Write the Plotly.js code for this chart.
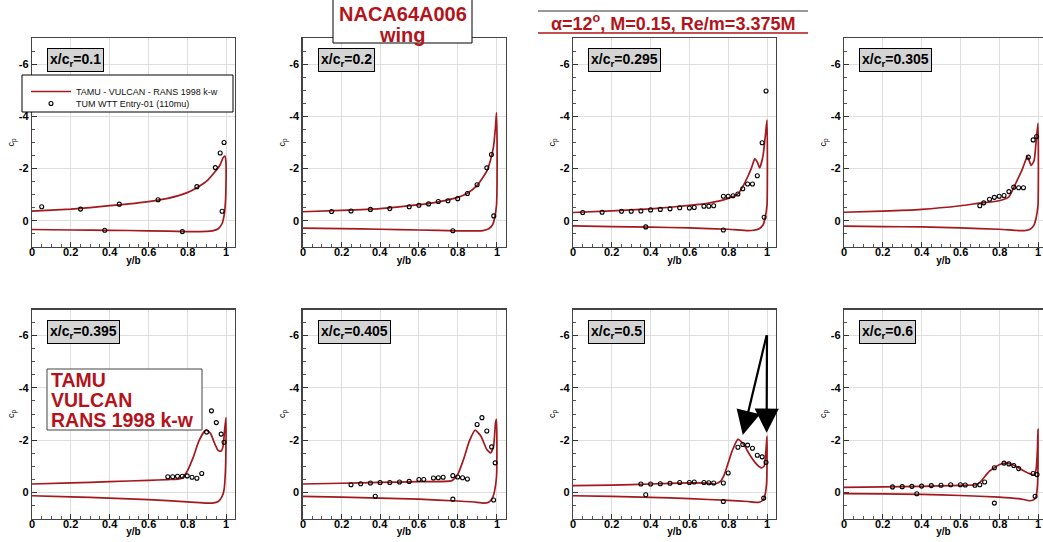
<!DOCTYPE html>
<html>
<head>
<meta charset="utf-8">
<script src="https://cdn.plot.ly/plotly-3.0.1.min.js"></script>
<style>html,body{margin:0;padding:0;background:#fff;}#chart{width:1043px;height:542px;}</style>
</head>
<body>
<div id="chart"></div>
<script>
// ---------- Data ----------
const stations = ['0.1', '0.2', '0.295', '0.305', '0.395', '0.405', '0.5', '0.6'];
const xTickVals = [0, 0.2, 0.4, 0.6, 0.8, 1];
const xTickText = ['0', '0.2', '0.4', '0.6', '0.8', '1'];
const yTickVals = [-6, -4, -2, 0];
const yTickText = ['-6', '-4', '-2', '0'];

// CFD (TAMU - VULCAN) : closed loop, upper surface out to tip then back along lower surface
const cfdX1 = [0, 0.1, 0.2, 0.3, 0.4, 0.5, 0.6, 0.7, 0.8, 0.85, 0.9, 0.94, 0.97, 0.985, 0.995, 1.0, 1.0, 0.997, 0.99, 0.98, 0.96, 0.93, 0.9, 0.8, 0.6, 0.4, 0.2, 0];
const cfdCp1 = [-0.37, -0.41, -0.45, -0.51, -0.58, -0.65, -0.74, -0.86, -1.08, -1.27, -1.52, -1.85, -2.15, -2.42, -2.48, -2.2, -1.4, -0.7, -0.2, 0.1, 0.3, 0.38, 0.4, 0.41, 0.38, 0.36, 0.35, 0.33];
const cfdX2 = [0, 0.2, 0.4, 0.6, 0.7, 0.8, 0.85, 0.9, 0.95, 0.97, 0.985, 0.995, 1.0, 1.003, 1.003, 1.0, 0.99, 0.98, 0.96, 0.93, 0.9, 0.8, 0.6, 0.4, 0.2, 0];
const cfdCp2 = [-0.35, -0.40, -0.47, -0.62, -0.73, -0.9, -1.06, -1.36, -1.9, -2.35, -2.86, -3.63, -4.14, -3.0, -1.5, -0.6, -0.1, 0.15, 0.3, 0.37, 0.38, 0.38, 0.35, 0.32, 0.3, 0.28];
const cfdX3 = [0, 0.2, 0.4, 0.6, 0.7, 0.8, 0.85, 0.88, 0.9, 0.92, 0.937, 0.95, 0.962, 0.979, 0.993, 1.0, 1.002, 1.0, 0.99, 0.98, 0.96, 0.93, 0.9, 0.8, 0.6, 0.4, 0.2, 0];
const cfdCp3 = [-0.32, -0.38, -0.46, -0.59, -0.68, -0.86, -1.03, -1.38, -1.68, -2.03, -2.37, -2.25, -2.03, -2.47, -3.37, -3.86, -2.0, -0.6, -0.1, 0.15, 0.3, 0.36, 0.37, 0.32, 0.27, 0.24, 0.22, 0.19];
const cfdX4 = [0, 0.2, 0.4, 0.6, 0.7, 0.8, 0.85, 0.88, 0.9, 0.92, 0.945, 0.965, 0.98, 0.99, 1.0, 1.002, 1.0, 0.99, 0.98, 0.96, 0.93, 0.9, 0.8, 0.6, 0.4, 0.2, 0];
const cfdCp4 = [-0.33, -0.37, -0.44, -0.58, -0.68, -0.77, -0.92, -1.35, -1.67, -1.99, -2.46, -2.12, -2.31, -3.01, -3.74, -2.0, -0.6, -0.1, 0.15, 0.32, 0.37, 0.37, 0.32, 0.27, 0.23, 0.22, 0.2];
const cfdX5 = [0, 0.2, 0.4, 0.6, 0.7, 0.77, 0.8, 0.83, 0.86, 0.89, 0.9, 0.92, 0.94, 0.96, 0.975, 0.985, 0.993, 1.0, 1.0, 0.997, 0.99, 0.98, 0.96, 0.93, 0.9, 0.8, 0.6, 0.4, 0.2, 0];
const cfdCp5 = [-0.32, -0.36, -0.41, -0.46, -0.49, -0.53, -0.81, -1.32, -1.96, -2.35, -2.38, -2.26, -1.9, -1.6, -1.58, -1.77, -2.41, -2.86, -1.8, -0.8, -0.1, 0.15, 0.35, 0.41, 0.41, 0.36, 0.28, 0.22, 0.17, 0.13];
const cfdX6 = [0, 0.2, 0.4, 0.6, 0.77, 0.8, 0.83, 0.86, 0.89, 0.92, 0.95, 0.97, 0.985, 0.995, 1.0, 1.002, 1.0, 0.99, 0.98, 0.96, 0.93, 0.9, 0.8, 0.6, 0.4, 0.2, 0];
const cfdCp6 = [-0.32, -0.35, -0.38, -0.41, -0.45, -0.68, -1.26, -1.96, -2.38, -2.15, -1.64, -1.51, -1.77, -2.67, -2.8, -1.8, -0.6, -0.05, 0.2, 0.38, 0.41, 0.38, 0.33, 0.26, 0.22, 0.18, 0.15];
const cfdX7 = [0, 0.2, 0.4, 0.6, 0.7, 0.73, 0.76, 0.78, 0.8, 0.82, 0.85, 0.88, 0.91, 0.94, 0.97, 0.985, 0.995, 1.0, 1.0, 0.998, 0.99, 0.98, 0.96, 0.9, 0.8, 0.6, 0.4, 0.2, 0];
const cfdCp7 = [-0.26, -0.28, -0.32, -0.36, -0.35, -0.32, -0.42, -0.68, -1.13, -1.58, -2.03, -1.83, -1.45, -1.13, -0.94, -1.0, -1.64, -2.15, -1.0, -0.36, 0.09, 0.28, 0.38, 0.35, 0.31, 0.24, 0.19, 0.15, 0.13];
const cfdX8 = [0, 0.2, 0.4, 0.6, 0.68, 0.7, 0.72, 0.75, 0.8, 0.83, 0.87, 0.9, 0.93, 0.96, 0.98, 0.99, 0.997, 1.0, 1.0, 0.997, 0.99, 0.98, 0.96, 0.9, 0.8, 0.6, 0.4, 0.2, 0];
const cfdCp8 = [-0.19, -0.21, -0.23, -0.27, -0.29, -0.38, -0.55, -0.81, -1.06, -1.12, -1.06, -0.94, -0.81, -0.71, -0.68, -0.87, -1.64, -2.41, -1.0, -0.23, 0.15, 0.28, 0.32, 0.24, 0.18, 0.12, 0.08, 0.06, 0.05];

// Experiment (TUM WTT Entry-01)
const expX1 = [0.05, 0.25, 0.45, 0.65, 0.85, 0.945, 0.97, 0.99, 0.98, 0.375, 0.775];
const expCp1 = [-0.54, -0.45, -0.64, -0.81, -1.31, -2.04, -2.6, -3.0, -0.37, 0.36, 0.41];
const expX2 = [0.15, 0.25, 0.35, 0.45, 0.55, 0.6, 0.65, 0.7, 0.75, 0.8, 0.85, 0.9, 0.95, 0.974, 0.986, 0.775];
const expCp2 = [-0.36, -0.38, -0.44, -0.47, -0.54, -0.6, -0.65, -0.74, -0.77, -0.85, -1.05, -1.38, -2.03, -2.54, -0.19, 0.38];
const expX3 = [0.05, 0.15, 0.25, 0.3, 0.35, 0.4, 0.45, 0.5, 0.55, 0.6, 0.625, 0.675, 0.7, 0.725, 0.775, 0.8, 0.825, 0.85, 0.875, 0.9, 0.925, 0.95, 0.975, 0.995, 0.375, 0.775, 0.985];
const expCp3 = [-0.32, -0.33, -0.37, -0.37, -0.38, -0.42, -0.44, -0.46, -0.5, -0.49, -0.51, -0.56, -0.56, -0.58, -0.94, -0.94, -0.96, -1.03, -1.23, -1.41, -1.41, -1.73, -2.99, -4.97, 0.23, 0.35, -0.14];
const expX4 = [0.7, 0.72, 0.75, 0.775, 0.8, 0.825, 0.85, 0.875, 0.9, 0.925, 0.95, 0.975, 0.993];
const expCp4 = [-0.58, -0.69, -0.83, -0.9, -0.94, -0.97, -1.12, -1.29, -1.27, -1.27, -2.44, -3.1, -3.23];
const expX5 = [0.7, 0.725, 0.75, 0.775, 0.8, 0.825, 0.85, 0.875, 0.9, 0.925, 0.95, 0.975, 0.99];
const expCp5 = [-0.6, -0.6, -0.62, -0.62, -0.63, -0.58, -0.54, -0.72, -2.31, -3.12, -2.67, -2.23, -1.92];
const expX6 = [0.25, 0.3, 0.35, 0.4, 0.45, 0.5, 0.55, 0.6, 0.625, 0.675, 0.7, 0.725, 0.775, 0.8, 0.825, 0.85, 0.9, 0.925, 0.95, 0.975, 0.993, 0.375, 0.775, 0.985];
const expCp6 = [-0.29, -0.33, -0.36, -0.38, -0.38, -0.4, -0.42, -0.49, -0.49, -0.55, -0.56, -0.58, -0.64, -0.59, -0.56, -0.51, -2.6, -2.86, -2.35, -1.74, -1.13, 0.15, 0.26, 0.29];
const expX7 = [0.35, 0.4, 0.45, 0.5, 0.55, 0.6, 0.625, 0.675, 0.7, 0.725, 0.775, 0.8, 0.85, 0.875, 0.9, 0.925, 0.95, 0.975, 0.995, 0.375, 0.775, 0.983];
const expCp7 = [-0.32, -0.32, -0.33, -0.35, -0.38, -0.38, -0.4, -0.38, -0.37, -0.36, -0.36, -0.74, -1.73, -1.83, -1.81, -1.69, -1.42, -1.36, -1.15, 0.09, 0.35, 0.22];
const expX8 = [0.25, 0.3, 0.35, 0.4, 0.45, 0.5, 0.55, 0.6, 0.625, 0.675, 0.7, 0.725, 0.775, 0.825, 0.85, 0.875, 0.9, 0.975, 0.995, 0.375, 0.775, 0.985];
const expCp8 = [-0.21, -0.22, -0.23, -0.24, -0.26, -0.27, -0.29, -0.29, -0.28, -0.27, -0.29, -0.4, -0.94, -1.12, -1.09, -1.03, -0.91, -0.72, -0.68, 0.05, 0.41, 0.15];

const cfdX = [cfdX1, cfdX2, cfdX3, cfdX4, cfdX5, cfdX6, cfdX7, cfdX8];
const cfdCp = [cfdCp1, cfdCp2, cfdCp3, cfdCp4, cfdCp5, cfdCp6, cfdCp7, cfdCp8];
const expX = [expX1, expX2, expX3, expX4, expX5, expX6, expX7, expX8];
const expCp = [expCp1, expCp2, expCp3, expCp4, expCp5, expCp6, expCp7, expCp8];

// ---------- Layout geometry ----------
const W = 1043, H = 542;
const colLeft = [32, 302.5, 573, 844];
const plotW = 203;
const rowTop = [38, 309.5];
const plotH = 209;
const RED = '#a3191e';
const TXTRED = '#b3141b';
const FONT = 'Liberation Sans, Arial, sans-serif';
const TICKFONT = {family: FONT, size: 11, weight: 'bold', color: '#000'};

const legendStyle = (top) => ({
  x: 26 / W, y: (H - top) / H, xanchor: 'left', yanchor: 'top',
  bgcolor: 'rgba(0,0,0,0)', borderwidth: 0,
  font: {family: FONT, size: 9, color: '#111'},
  tracegroupgap: 0, itemwidth: 40
});

const traces = [];
const layout = {
  width: W, height: H,
  margin: {l: 0, r: 0, t: 0, b: 0},
  paper_bgcolor: '#ffffff', plot_bgcolor: '#ffffff',
  font: {family: FONT, color: '#000'},
  showlegend: true,
  legend: legendStyle(77),
  legend2: legendStyle(89),
  annotations: [], shapes: []
};

for (let i = 0; i < 8; i++) {
  const row = Math.floor(i / 4), col = i % 4;
  const xa = i === 0 ? 'x' : 'x' + (i + 1);
  const ya = i === 0 ? 'y' : 'y' + (i + 1);
  const x0 = colLeft[col];
  const x1 = col === 3 ? W : x0 + plotW;
  const xmax = (x1 - x0) / 194;
  const yT = rowTop[row], yB = yT + plotH;

  traces.push({
    type: 'scatter', mode: 'lines', x: cfdX[i], y: cfdCp[i], xaxis: xa, yaxis: ya,
    line: {color: RED, width: 1.7, shape: 'spline', smoothing: 0.5},
    name: 'TAMU - VULCAN - RANS 1998 k-w', showlegend: i === 0, legend: 'legend', hoverinfo: 'skip'
  });
  traces.push({
    type: 'scatter', mode: 'markers', x: expX[i], y: expCp[i], xaxis: xa, yaxis: ya,
    marker: {symbol: 'circle-open', size: 4, color: '#000', line: {width: 1.1, color: '#000'}},
    name: 'TUM WTT Entry-01 (110mu)', showlegend: i === 0, legend: 'legend2', hoverinfo: 'skip'
  });

  const xKey = i === 0 ? 'xaxis' : 'xaxis' + (i + 1);
  const yKey = i === 0 ? 'yaxis' : 'yaxis' + (i + 1);
  layout[xKey] = {
    domain: [x0 / W, x1 / W], anchor: ya, range: [0, xmax],
    tickvals: xTickVals, ticktext: xTickText, ticks: 'inside', ticklen: 5, tickcolor: '#333',
    showticklabels: false,
    minor: {dtick: 0.05, tick0: 0, ticks: 'inside', ticklen: 3, tickcolor: '#555', showgrid: false},
    showgrid: true, gridcolor: '#dedede', gridwidth: 1, zeroline: false,
    showline: true, linecolor: '#444', linewidth: 1.3, mirror: true,
    title: {text: 'y/b', font: {family: FONT, size: 10, weight: 'bold', color: '#000'}, standoff: 9},
    fixedrange: true
  };
  layout[yKey] = {
    domain: [(H - yB) / H, (H - yT) / H], anchor: xa, range: [1, -7],
    tickvals: yTickVals, ticktext: yTickText, ticks: 'inside', ticklen: 5, tickcolor: '#333',
    minor: {dtick: 0.5, tick0: 0, ticks: 'inside', ticklen: 3, tickcolor: '#555', showgrid: false},
    showgrid: true, gridcolor: '#dedede', gridwidth: 1, zeroline: false,
    showline: true, linecolor: '#444', linewidth: 1.3, mirror: true,
    tickfont: TICKFONT,
    title: {text: 'c<sub>p</sub>', font: {family: FONT, size: 9, color: '#000'}, standoff: 2},
    fixedrange: true
  };

  // x tick labels, placed tight under the axis through the axis' own scale
  xTickVals.forEach((v, k) => {
    layout.annotations.push({
      xref: xa, yref: ya + ' domain', x: v, y: 0, yanchor: 'top', xanchor: 'center',
      yshift: 3, showarrow: false, text: xTickText[k], font: TICKFONT
    });
  });

  // station label box
  layout.annotations.push({
    xref: xa + ' domain', yref: ya + ' domain', x: 0.075, y: 0.95,
    xanchor: 'left', yanchor: 'top', showarrow: false,
    text: 'x/c<sub>r</sub>=' + stations[i],
    font: {family: FONT, size: 14, weight: 'bold', color: '#000'},
    bgcolor: '#d4d4d4', bordercolor: '#000', borderwidth: 1, borderpad: 2
  });
}

// legend box (panel 1)
layout.shapes.push({type: 'rect', xref: 'paper', yref: 'paper',
  x0: 22 / W, x1: 233 / W, y0: (H - 112) / H, y1: (H - 75) / H,
  line: {color: '#000', width: 1}, fillcolor: '#fff', layer: 'above'});

// NACA title box
layout.shapes.push({type: 'rect', xref: 'paper', yref: 'paper',
  x0: 333 / W, x1: 472 / W, y0: (H - 43) / H, y1: 1.02,
  line: {color: '#000', width: 1}, fillcolor: '#fff', layer: 'above'});
layout.annotations.push({xref: 'paper', yref: 'paper', x: 402.5 / W, y: (H - 14) / H,
  xanchor: 'center', yanchor: 'middle', showarrow: false, text: 'NACA64A006',
  font: {family: FONT, size: 20, weight: 'bold', color: TXTRED}});
layout.annotations.push({xref: 'paper', yref: 'paper', x: 402.5 / W, y: (H - 35) / H,
  xanchor: 'center', yanchor: 'middle', showarrow: false, text: 'wing',
  font: {family: FONT, size: 20, weight: 'bold', color: TXTRED}});

// flow condition title
layout.shapes.push({type: 'line', xref: 'paper', yref: 'paper',
  x0: 538 / W, x1: 808 / W, y0: (H - 11) / H, y1: (H - 11) / H, line: {color: '#333', width: 1.2}});
layout.shapes.push({type: 'line', xref: 'paper', yref: 'paper',
  x0: 538 / W, x1: 808 / W, y0: (H - 33) / H, y1: (H - 33) / H, line: {color: TXTRED, width: 1.5}});
layout.annotations.push({xref: 'paper', yref: 'paper', x: 673 / W, y: (H - 22) / H,
  xanchor: 'center', yanchor: 'middle', showarrow: false,
  text: 'α=12<sup>o</sup>, M=0.15, Re/m=3.375M',
  font: {family: FONT, size: 18, weight: 'bold', color: TXTRED}});

// TAMU box in panel 5
layout.shapes.push({type: 'rect', xref: 'paper', yref: 'paper',
  x0: 47 / W, x1: 202 / W, y0: (H - 430) / H, y1: (H - 369) / H,
  line: {color: '#444', width: 1}, fillcolor: '#fff', layer: 'above'});
const tamuLines = ['TAMU', 'VULCAN', 'RANS 1998 k-w'];
tamuLines.forEach((t, k) => {
  layout.annotations.push({xref: 'paper', yref: 'paper', x: 50 / W, y: (H - (380 + k * 20)) / H,
    xanchor: 'left', yanchor: 'middle', showarrow: false, text: t, borderpad: 0,
    font: {family: FONT, size: 19.5, weight: 'bold', color: TXTRED}});
});

// arrows in panel 7
const arrowTail = {x: 1.0, y: -6.07};
const arrowHeads = [{x: 0.875, y: -2.2}, {x: 0.998, y: -2.28}];
arrowHeads.forEach(h => {
  layout.annotations.push({xref: 'x7', yref: 'y7', axref: 'x7', ayref: 'y7',
    x: h.x, y: h.y, ax: arrowTail.x, ay: arrowTail.y, text: '', showarrow: true,
    arrowhead: 2, arrowsize: 2.2, arrowwidth: 2.2, arrowcolor: '#000'});
});

Plotly.newPlot('chart', traces, layout, {staticPlot: true, displayModeBar: false});
</script>
</body>
</html>
